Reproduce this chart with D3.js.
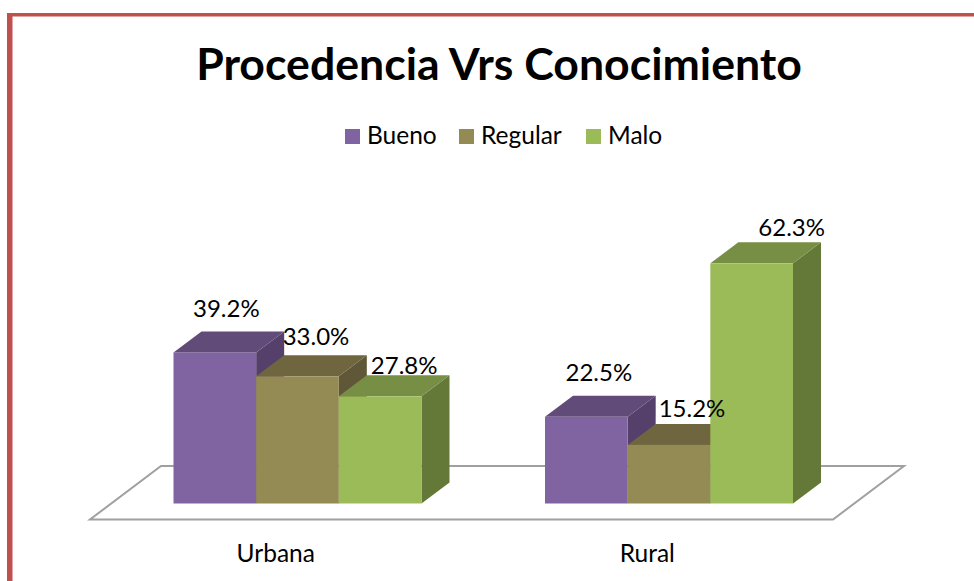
<!DOCTYPE html>
<html>
<head>
<meta charset="utf-8">
<script src="https://cdnjs.cloudflare.com/ajax/libs/d3/7.8.5/d3.min.js"></script>
<style>
  html, body { margin: 0; padding: 0; background: #fff; }
  svg { display: block; font-family: Lato, sans-serif; }
</style>
</head>
<body>
<script>
const categories = ['Urbana', 'Rural'];
const seriesNames = ['Bueno', 'Regular', 'Malo'];
const bueno = [39.2, 22.5];
const regular = [33.0, 15.2];
const malo = [27.8, 62.3];

const frontColors = ['#8064a2', '#948a54', '#9bbb59'];
const topColors = ['#614b79', '#6f6640', '#778f45'];
const sideColors = ['#54406a', '#5f5738', '#647837'];

const width = 974;
const height = 581;
const floorFront = 519.5;
const floorBack = 466;
const baseY = 503.5;
const depthX = 28;
const depthY = 21;
const floorDepthX = 71;
const barShift = 21.75;

// labels were dragged by hand in the original, so each has its own nudge from the bar top
const labelNudgeX = [[11.5, 12.5], [18.5, 23], [24, 40]];
const labelNudgeY = [[-35, -36], [-31, -28], [-22, -27]];

const svg = d3.select('body').append('svg')
  .attr('width', width)
  .attr('height', height);

// border, only top and left show in the crop
svg.append('rect').attr('x', 7).attr('y', 13).attr('width', width - 7).attr('height', 3.5).attr('fill', '#c0504d');
svg.append('rect').attr('x', 7).attr('y', 13).attr('width', 5.5).attr('height', height - 13).attr('fill', '#c0504d');

svg.append('text')
  .attr('x', 499)
  .attr('y', 80)
  .attr('text-anchor', 'middle')
  .style('font-size', '44.6px')
  .style('font-weight', 700)
  .text('Procedencia Vrs Conocimiento');

// x scales
const xScale = d3.scaleBand().domain(categories).range([90, 833]);
const xSeries = d3.scaleBand().domain(seriesNames).range([0, 248]);

// y scale, 3.855px per percentage point
const yScale = d3.scaleLinear().domain([0, 70]).range([baseY, baseY - 269.85]);

// floor
const floorPath = d3.path();
floorPath.moveTo(90, floorFront);
floorPath.lineTo(833, floorFront);
floorPath.lineTo(833 + floorDepthX, floorBack);
floorPath.lineTo(90 + floorDepthX, floorBack);
floorPath.closePath();
svg.append('path')
  .attr('d', floorPath.toString())
  .attr('fill', '#fff')
  .attr('stroke', '#a0a0a0')
  .attr('stroke-width', 2);

// x axis
const xAxis = svg.append('g')
  .attr('transform', 'translate(0,' + floorFront + ')')
  .call(d3.axisBottom(xScale).tickSize(0).tickPadding(25));
xAxis.select('.domain').remove();
xAxis.selectAll('text')
  .attr('fill', '#000')
  .style('font-family', 'Lato, sans-serif')
  .style('font-size', '24.5px');

// bars
const values = [bueno, regular, malo];
const bars = [];
categories.forEach((cat, c) => {
  seriesNames.forEach((name, s) => {
    bars.push({cat: cat, c: c, name: name, s: s, value: values[s][c]});
  });
});

const barX = d => xScale(d.cat) + (xScale.bandwidth() - xSeries.range()[1]) / 2 + barShift + xSeries(d.name);
const pts = arr => arr.map(p => p.join(',')).join(' ');

const barGroups = svg.selectAll('g.bar')
  .data(bars)
  .enter()
  .append('g')
  .attr('class', 'bar');

barGroups.append('polygon')
  .attr('points', d => {
    const x = barX(d) + xSeries.bandwidth();
    const y = yScale(d.value);
    return pts([[x, y], [x + depthX, y - depthY], [x + depthX, baseY - depthY], [x, baseY]]);
  })
  .attr('fill', d => sideColors[d.s]);

barGroups.append('polygon')
  .attr('points', d => {
    const x = barX(d);
    const w = xSeries.bandwidth();
    const y = yScale(d.value);
    return pts([[x, y], [x + w, y], [x + w + depthX, y - depthY], [x + depthX, y - depthY]]);
  })
  .attr('fill', d => topColors[d.s]);

barGroups.append('rect')
  .attr('x', barX)
  .attr('y', d => yScale(d.value))
  .attr('width', xSeries.bandwidth())
  .attr('height', d => baseY - yScale(d.value))
  .attr('fill', d => frontColors[d.s]);

// data labels on top of everything
svg.selectAll('text.value')
  .data(bars)
  .enter()
  .append('text')
  .attr('class', 'value')
  .attr('x', d => barX(d) + xSeries.bandwidth() / 2 + labelNudgeX[d.s][d.c])
  .attr('y', d => yScale(d.value) + labelNudgeY[d.s][d.c])
  .attr('text-anchor', 'middle')
  .style('font-size', '24px')
  .text(d => d.value.toFixed(1) + '%');

// legend
const legendX = [345, 459, 586];
const legend = svg.selectAll('g.legend')
  .data(seriesNames)
  .enter()
  .append('g')
  .attr('class', 'legend')
  .attr('transform', (d, i) => 'translate(' + legendX[i] + ',129)');

legend.append('rect')
  .attr('width', 15)
  .attr('height', 15)
  .attr('fill', (d, i) => frontColors[i]);

legend.append('text')
  .attr('x', 22)
  .attr('y', 15)
  .style('font-size', '24.5px')
  .text(d => d);
</script>
</body>
</html>
